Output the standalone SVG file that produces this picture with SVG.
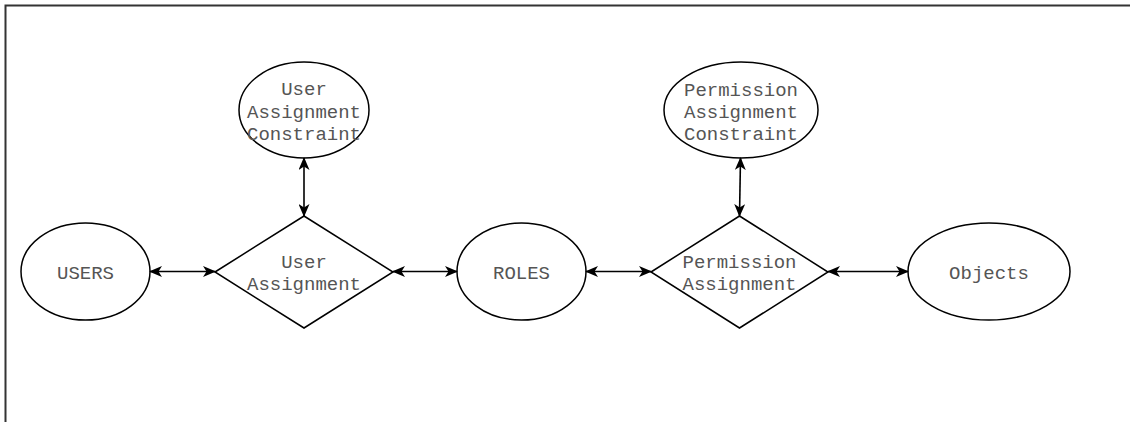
<svg xmlns="http://www.w3.org/2000/svg" width="1130" height="422" viewBox="0 0 1130 422">
<defs>
<marker id="arr" viewBox="0 0 13 11" refX="12" refY="5.5" markerWidth="13" markerHeight="11" markerUnits="userSpaceOnUse" orient="auto-start-reverse">
<path d="M0,0 L13,5.5 L0,11 L3.5,5.5 Z" fill="#000"/>
</marker>
</defs>
<style>
.shape{fill:#fff;stroke:#000;stroke-width:1.5}
.lbl{font-family:"Liberation Mono","Courier New",monospace;font-size:19px;fill:#555;text-anchor:middle}
.conn{stroke:#000;stroke-width:1.6;fill:none;marker-start:url(#arr);marker-end:url(#arr)}
.frame{stroke:#333;stroke-width:2;fill:none}
</style>
<rect width="1130" height="422" fill="#fff"/>
<g id="frame">
<path class="frame" d="M5.5,422 L5.5,5.5 L1130,5.5"/>
</g>
<g id="users">
<ellipse class="shape" cx="85.5" cy="271.5" rx="64.5" ry="48.5"/>
<text class="lbl" x="85.5" y="279">USERS</text>
</g>
<g id="user-assignment">
<polygon class="shape" points="215,272 304,216 393,272 304,328"/>
<text class="lbl" x="304" y="268">User</text>
<text class="lbl" x="304" y="290">Assignment</text>
</g>
<g id="user-assignment-constraint">
<ellipse class="shape" cx="304" cy="110" rx="65" ry="48"/>
<text class="lbl" x="304" y="95">User</text>
<text class="lbl" x="304" y="117.5">Assignment</text>
<text class="lbl" x="304" y="140">Constraint</text>
</g>
<g id="roles">
<ellipse class="shape" cx="521.5" cy="271.5" rx="64.5" ry="48.5"/>
<text class="lbl" x="521.5" y="279">ROLES</text>
</g>
<g id="permission-assignment">
<polygon class="shape" points="651,272 739.5,216 828,272 739.5,328"/>
<text class="lbl" x="739.5" y="268">Permission</text>
<text class="lbl" x="739.5" y="290">Assignment</text>
</g>
<g id="permission-assignment-constraint">
<ellipse class="shape" cx="741" cy="110" rx="77" ry="48"/>
<text class="lbl" x="741" y="96">Permission</text>
<text class="lbl" x="741" y="118">Assignment</text>
<text class="lbl" x="741" y="140">Constraint</text>
</g>
<g id="objects">
<ellipse class="shape" cx="989" cy="271.5" rx="81" ry="48.5"/>
<text class="lbl" x="989" y="279">Objects</text>
</g>
<g id="connectors">
<line class="conn" x1="150" y1="271.5" x2="215" y2="271.5"/>
<line class="conn" x1="304" y1="158" x2="304" y2="216"/>
<line class="conn" x1="393" y1="271.5" x2="457" y2="271.5"/>
<line class="conn" x1="586" y1="271.5" x2="651" y2="271.5"/>
<line class="conn" x1="740.5" y1="158" x2="739.5" y2="216"/>
<line class="conn" x1="828" y1="271.5" x2="908" y2="271.5"/>
</g>
</svg>
